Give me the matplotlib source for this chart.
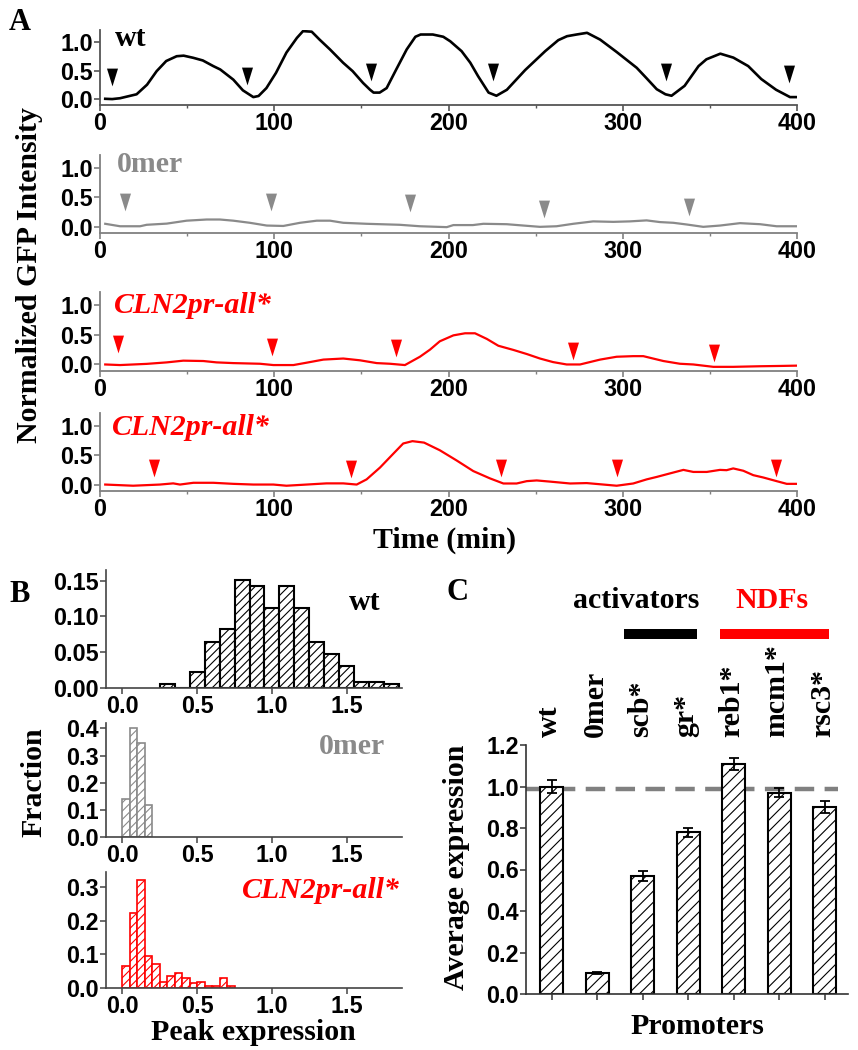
import matplotlib
matplotlib.use("Agg")
import matplotlib.pyplot as plt
import numpy as np
from matplotlib.ticker import MultipleLocator

# ---------------- data ----------------
# Panel A traces
wt_t = [3, 7, 11.5, 21, 27, 32.5, 38, 44, 48, 53.5, 59, 65, 69, 76.5, 82, 88, 91, 95.5, 101, 107,
        113, 116.5, 121.5, 126, 132, 139.5, 145, 151, 155, 157, 160.5, 164.5, 170, 176, 181, 184,
        191, 197, 201, 207.5, 212.5, 217, 223, 227.5, 233.5, 244, 255.5, 263, 268, 273.5, 279.5,
        287, 296.5, 308, 313.5, 319.5, 324.5, 328, 335.5, 343.5, 348, 356, 363.5, 372, 379.5,
        388, 396, 400]
wt_v = [0.0, -0.005, 0.01, 0.08, 0.25, 0.49, 0.67, 0.755, 0.765, 0.727, 0.68, 0.58, 0.52, 0.34,
        0.15, 0.03, 0.05, 0.19, 0.46, 0.82, 1.08, 1.20, 1.19, 1.05, 0.875, 0.64, 0.49, 0.28, 0.16,
        0.11, 0.11, 0.19, 0.52, 0.875, 1.10, 1.14, 1.14, 1.10, 1.02, 0.845, 0.64, 0.40, 0.11,
        0.054, 0.16, 0.51, 0.845, 1.04, 1.11, 1.14, 1.17, 1.05, 0.83, 0.55, 0.37, 0.17, 0.08,
        0.054, 0.23, 0.58, 0.70, 0.80, 0.73, 0.58, 0.35, 0.16, 0.03, 0.03]
wt_arrow_t = [6.7, 84.2, 155.3, 225.7, 324.6, 395.6]
wt_arrow_y = [0.39, 0.41, 0.47, 0.47, 0.47, 0.44]

zero_t = [3, 11.5, 23, 26.8, 38.3, 49.7, 61.2, 68.8, 76.5, 86, 95.7, 105.2, 114.8, 124.4, 132,
          139.6, 153, 172, 183.6, 199, 202.8, 214, 220, 233.4, 243, 252.5, 262, 271.6, 283,
          294.6, 304, 313.7, 321.4, 329, 336.7, 346.2, 355.8, 367.3, 378.8, 388.3, 399.4]
zero_v = [0.047, 0.005, 0.005, 0.03, 0.05, 0.1, 0.12, 0.12, 0.1, 0.064, 0.017, 0.01, 0.064, 0.1,
          0.1, 0.064, 0.047, 0.03, 0.005, -0.01, 0.025, 0.025, 0.047, 0.04, 0.017, -0.005, 0.005,
          0.047, 0.088, 0.08, 0.088, 0.105, 0.076, 0.064, 0.035, -0.005, 0.017, 0.058, 0.04,
          0.005, 0.005]
zero_arrow_t = [14.3, 98, 178, 254.8, 338.2]
zero_arrow_y = [0.42, 0.42, 0.40, 0.30, 0.34]

cln1_t = [3, 11.5, 26.8, 38.3, 47.8, 59.3, 66.9, 76.5, 91.8, 99.5, 111, 118.6, 128.2, 139.6,
          149.2, 158.8, 166.4, 175, 183.6, 189.4, 195, 202.8, 209.5, 215.2, 222, 228.6, 237.2,
          245, 252.5, 260, 267.8, 275.5, 287, 296.5, 306, 311.8, 323.3, 332.8, 340.5, 352,
          363.4, 378.8, 390.3, 399.4]
cln1_v = [0.0, -0.01, 0.01, 0.035, 0.064, 0.058, 0.035, 0.023, 0.012, -0.01, -0.01, 0.03, 0.082,
          0.1, 0.07, 0.023, 0.012, -0.01, 0.13, 0.25, 0.39, 0.49, 0.525, 0.525, 0.43, 0.315,
          0.245, 0.175, 0.1, 0.04, 0.0, 0.0, 0.082, 0.13, 0.14, 0.14, 0.058, 0.012, 0.0, -0.04,
          -0.04, -0.03, -0.025, -0.02]
cln1_arrow_t = [10.5, 98.5, 170, 271.6, 352.4]
cln1_arrow_y = [0.35, 0.30, 0.27, 0.23, 0.19]

cln2_t = [3, 19, 34.4, 42, 45.9, 53.6, 65, 76.5, 88, 99.5, 107, 118.6, 130, 139.6, 147.3, 153,
          160.7, 168.3, 174, 179.3, 186, 195, 204.7, 214.2, 223.8, 231.5, 239.1, 244.9, 250.6,
          258.3, 269.8, 279.3, 288.9, 296.5, 306, 313.7, 319.5, 327.1, 334.8, 340.5, 348.2,
          355.8, 359.6, 363.4, 369.2, 374.9, 380.7, 388.3, 394.1, 399.4]
cln2_v = [0.0, -0.02, 0.0, 0.02, 0.0, 0.03, 0.03, 0.012, 0.0, 0.0, -0.02, 0.0, 0.02, 0.02, 0.0,
          0.088, 0.29, 0.525, 0.70, 0.74, 0.715, 0.585, 0.41, 0.23, 0.105, 0.018, 0.018, 0.058,
          0.07, 0.05, 0.018, 0.025, 0.0, -0.02, 0.018, 0.088, 0.13, 0.19, 0.25, 0.215, 0.215,
          0.25, 0.245, 0.275, 0.235, 0.16, 0.12, 0.058, 0.012, 0.012]
cln2_arrow_t = [31, 143.8, 230, 296.5, 388]
cln2_arrow_y = [0.29, 0.27, 0.28, 0.28, 0.28]

# Panel B histograms
wt_bins = [0.3, 0.4, 0.5, 0.6, 0.7, 0.8, 0.9, 1.0, 1.1, 1.2, 1.3, 1.4, 1.5, 1.6, 1.7, 1.8]
wt_frac = [0.005, 0.0, 0.022, 0.065, 0.082, 0.151, 0.143, 0.112, 0.143, 0.112, 0.065, 0.048,
           0.031, 0.008, 0.008, 0.005]
zero_bins = [0.0, 0.05, 0.10, 0.15]
zero_frac = [0.14, 0.40, 0.345, 0.118]
cln_bins = [0.0, 0.05, 0.10, 0.15, 0.20, 0.25, 0.30, 0.35, 0.40, 0.45, 0.50, 0.55, 0.60, 0.65, 0.70]
cln_frac = [0.064, 0.223, 0.322, 0.096, 0.070, 0.018, 0.037, 0.045, 0.031, 0.016, 0.018, 0.006,
            0.006, 0.031, 0.006]

# Panel C
promoters = ["wt", "0mer", "scb*", "gr*", "reb1*", "mcm1*", "rsc3*"]
avg_expr = [1.00, 0.10, 0.57, 0.78, 1.11, 0.97, 0.90]
avg_err = [0.033, 0.004, 0.024, 0.022, 0.029, 0.022, 0.029]
ref_level = 0.99

# ---------------- style ----------------
plt.rcParams["font.family"] = ["Liberation Sans", "DejaVu Sans"]
plt.rcParams["font.weight"] = "bold"
plt.rcParams["font.size"] = 16.8
plt.rcParams["hatch.linewidth"] = 0.8
plt.rcParams["lines.scale_dashes"] = False

W, H = 858, 1050
fig = plt.figure(figsize=(W / 100, H / 100), dpi=100)

def fx(x):
    return x / W

def fy(y):
    return 1 - y / H

def add_ax(left, top, right, bottom):
    return fig.add_axes([fx(left), fy(bottom), fx(right) - fx(left), (bottom - top) / H])

SERIF = ["Liberation Serif", "DejaVu Serif"]
BIG = 21.5
RED = "#ff0000"
GRAY = "#8a8a8a"

tri = [(-0.62, 1.0), (0.62, 1.0), (0.0, -1.0), (-0.62, 1.0)]

def style_trace_ax(ax, spine_col):
    for s in ["top", "right"]:
        ax.spines[s].set_visible(False)
    for s in ["left", "bottom"]:
        ax.spines[s].set_color(spine_col)
        ax.spines[s].set_linewidth(1.3)
    ax.set_xlim(0, 400)
    ax.set_ylim(-0.11, 1.22)
    ax.set_yticks([0.0, 0.5, 1.0])
    ax.set_yticklabels(["0.0", "0.5", "1.0"])
    ax.set_xticks([0, 100, 200, 300, 400])
    ax.xaxis.set_minor_locator(MultipleLocator(50))
    ax.tick_params(axis="both", which="major", direction="out", length=4, width=1.2,
                   color=spine_col, pad=1)
    ax.tick_params(axis="x", which="minor", direction="out", length=2.5, width=1.0,
                   color=spine_col)

# Panel A axes (pixel boxes)
a1 = add_ax(100, 30, 797, 105)
a2 = add_ax(100, 155, 797, 233)
a3 = add_ax(100, 292, 797, 371)
a4 = add_ax(100, 413, 797, 491)

traces = [
    (a1, wt_t, wt_v, wt_arrow_t, wt_arrow_y, "black", 1.9, "#555555"),
    (a2, zero_t, zero_v, zero_arrow_t, zero_arrow_y, GRAY, 1.6, "#808080"),
    (a3, cln1_t, cln1_v, cln1_arrow_t, cln1_arrow_y, RED, 1.6, "#808080"),
    (a4, cln2_t, cln2_v, cln2_arrow_t, cln2_arrow_y, RED, 1.6, "#808080"),
]
for ax, t, v, at, ay, col, lw, sc in traces:
    style_trace_ax(ax, sc)
    ax.plot(t, v, color=col, lw=lw, solid_joinstyle="round")
    ax.plot(at, ay, linestyle="none", marker=tri, markersize=12.8, color=col,
            markeredgewidth=0, clip_on=False)

fig.text(fx(131), fy(38), "wt", family=SERIF, size=BIG, weight="bold", ha="center", va="center")
fig.text(fx(150), fy(165), "0mer", family=SERIF, size=BIG, weight="bold", ha="center",
         va="center", color=GRAY)
fig.text(fx(193), fy(305), "CLN2pr-all*", family=SERIF, size=BIG, weight="bold",
         style="italic", ha="center", va="center", color=RED)
fig.text(fx(191), fy(427), "CLN2pr-all*", family=SERIF, size=BIG, weight="bold",
         style="italic", ha="center", va="center", color=RED)

fig.text(fx(20), fy(23), "A", family=SERIF, size=22, weight="bold", ha="center", va="center")
fig.text(fx(30), fy(275), "Normalized GFP Intensity", family=SERIF, size=BIG, weight="bold",
         rotation=90, ha="center", va="center")
fig.text(fx(445), fy(540), "Time (min)", family=SERIF, size=BIG, weight="bold",
         ha="center", va="center")

# Panel B
def style_hist_ax(ax, ylim, yticks, ylabels):
    for s in ["top", "right"]:
        ax.spines[s].set_visible(False)
    for s in ["left", "bottom"]:
        ax.spines[s].set_color("#444444")
        ax.spines[s].set_linewidth(1.2)
    ax.set_xlim(-0.11, 1.87)
    ax.set_ylim(*ylim)
    ax.set_yticks(yticks)
    ax.set_yticklabels(ylabels)
    ax.set_xticks([0.0, 0.5, 1.0, 1.5])
    ax.set_xticklabels(["0.0", "0.5", "1.0", "1.5"])
    ax.tick_params(axis="both", direction="out", length=4, width=1.1, color="#444444", pad=1)

b1 = add_ax(106, 570, 402, 688)
b2 = add_ax(106, 723, 402, 837)
b3 = add_ax(106, 872, 402, 988)

style_hist_ax(b1, (0, 0.165), [0, 0.05, 0.10, 0.15], ["0.00", "0.05", "0.10", "0.15"])
b1.bar(wt_bins, wt_frac, width=0.1, align="center", facecolor="white", edgecolor="black",
       linewidth=1.5, hatch="////")

style_hist_ax(b2, (0, 0.42), [0, 0.1, 0.2, 0.3, 0.4], ["0.0", "0.1", "0.2", "0.3", "0.4"])
b2.bar(zero_bins, zero_frac, width=0.05, align="edge", facecolor="white", edgecolor=GRAY,
       linewidth=1.2, hatch="////")

style_hist_ax(b3, (0, 0.345), [0, 0.1, 0.2, 0.3], ["0.0", "0.1", "0.2", "0.3"])
b3.bar(cln_bins, cln_frac, width=0.05, align="edge", facecolor="white", edgecolor=RED,
       linewidth=1.2, hatch="////")

fig.text(fx(365), fy(602), "wt", family=SERIF, size=BIG, weight="bold", ha="center", va="center")
fig.text(fx(352), fy(747), "0mer", family=SERIF, size=BIG, weight="bold", ha="center",
         va="center", color=GRAY)
fig.text(fx(321), fy(890), "CLN2pr-all*", family=SERIF, size=BIG, weight="bold",
         style="italic", ha="center", va="center", color=RED)
fig.text(fx(20), fy(595), "B", family=SERIF, size=22, weight="bold", ha="center", va="center")
fig.text(fx(34), fy(782), "Fraction", family=SERIF, size=BIG, weight="bold", rotation=90,
         ha="center", va="center")
fig.text(fx(253), fy(1033), "Peak expression", family=SERIF, size=BIG, weight="bold",
         ha="center", va="center")

# Panel C
c = add_ax(526, 745, 848, 994)
for s in ["top", "right"]:
    c.spines[s].set_visible(False)
for s in ["left", "bottom"]:
    c.spines[s].set_color("#333333")
    c.spines[s].set_linewidth(1.2)
xpos = np.arange(len(promoters))
c.bar(xpos, avg_expr, width=0.5, facecolor="white", edgecolor="black", linewidth=1.5,
      hatch="///", zorder=2)
c.errorbar(xpos, avg_expr, yerr=avg_err, fmt="none", ecolor="black", elinewidth=1.3,
           capsize=3.5, capthick=1.3, zorder=3)
c.set_xlim(-0.565, 6.51)
c.set_ylim(0, 1.2)
c.set_yticks([0.0, 0.2, 0.4, 0.6, 0.8, 1.0, 1.2])
c.set_yticklabels(["0.0", "0.2", "0.4", "0.6", "0.8", "1.0", "1.2"])
c.set_xticks(xpos)
c.set_xticklabels([""] * len(promoters))
c.tick_params(axis="both", direction="out", length=4, width=1.1, color="#333333", pad=1)
c.plot([-0.565, 6.29], [ref_level, ref_level], color="#808080", lw=3.2, dashes=(14, 7.5),
       zorder=1.5)
for i, name in enumerate(promoters):
    c.text(i - 0.05, 1.24, name, family=SERIF, size=BIG, weight="bold", rotation=90,
           ha="center", va="bottom")
c.plot([1.59, 3.19], [1.733, 1.733], color="black", lw=7.2, solid_capstyle="butt", clip_on=False)
c.plot([3.70, 6.09], [1.733, 1.733], color=RED, lw=7.2, solid_capstyle="butt", clip_on=False)

fig.text(fx(636), fy(600), "activators", family=SERIF, size=BIG, weight="bold", ha="center",
         va="center")
fig.text(fx(772), fy(600), "NDFs", family=SERIF, size=BIG, weight="bold", ha="center",
         va="center", color=RED)
fig.text(fx(457), fy(592), "C", family=SERIF, size=22, weight="bold", ha="center", va="center")
fig.text(fx(456), fy(867), "Average expression", family=SERIF, size=BIG, weight="bold",
         rotation=90, ha="center", va="center")
fig.text(fx(697), fy(1027), "Promoters", family=SERIF, size=BIG, weight="bold", ha="center",
         va="center")

fig.savefig("out.png", dpi=100)
